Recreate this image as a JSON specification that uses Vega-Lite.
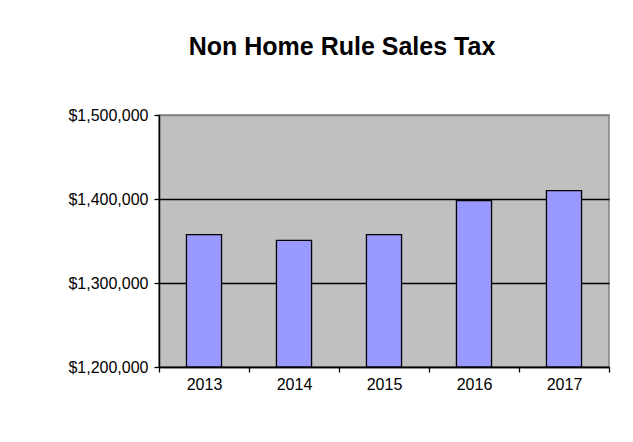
{
  "$schema": "https://vega.github.io/schema/vega-lite/v6.json",
  "width": 450,
  "height": 252,
  "autosize": "none",
  "padding": {"left": 159, "top": 115, "right": 24, "bottom": 75},
  "background": "white",
  "title": {
    "text": "Non Home Rule Sales Tax",
    "font": "Liberation Sans",
    "fontSize": 25,
    "fontWeight": "bold",
    "color": "black",
    "anchor": "middle",
    "dx": -42,
    "offset": 27,
    "baseline": "alphabetic"
  },
  "data": {
    "values": [
      {"year": "2013", "sales": 1357500},
      {"year": "2014", "sales": 1350700},
      {"year": "2015", "sales": 1357500},
      {"year": "2016", "sales": 1398000},
      {"year": "2017", "sales": 1409900}
    ]
  },
  "mark": {"type": "bar", "fill": "#9999FF", "stroke": "black", "strokeWidth": 1.3, "width": {"band": 0.39}},
  "encoding": {
    "x": {
      "field": "year",
      "type": "ordinal",
      "scale": {"paddingInner": 0, "paddingOuter": 0},
      "axis": {
        "title": null,
        "labelAngle": 0,
        "tickBand": "extent",
        "tickSize": 5,
        "tickColor": "black",
        "tickWidth": 1.3,
        "domainColor": "black",
        "domainWidth": 1.5,
        "labelFont": "Liberation Sans",
        "labelFontSize": 16,
        "labelColor": "black",
        "labelPadding": 4,
        "grid": false
      }
    },
    "y": {
      "field": "sales",
      "type": "quantitative",
      "scale": {"domain": [1200000, 1500000], "zero": false, "nice": false},
      "axis": {
        "title": null,
        "values": [1200000, 1300000, 1400000, 1500000],
        "format": "$,.0f",
        "tickSize": 5,
        "tickColor": "black",
        "tickWidth": 1.3,
        "domainColor": "black",
        "domainWidth": 1.5,
        "labelFont": "Liberation Sans",
        "labelFontSize": 16,
        "labelColor": "black",
        "labelPadding": 6,
        "grid": true,
        "gridColor": {"condition": {"test": "datum.value >= 1500000", "value": "#808080"}, "value": "black"},
        "gridWidth": 1.3,
        "gridOpacity": 1
      }
    },
    "y2": {"datum": 1200000}
  },
  "config": {
    "view": {"fill": "#C0C0C0", "stroke": "#808080", "strokeWidth": 1.5}
  }
}
